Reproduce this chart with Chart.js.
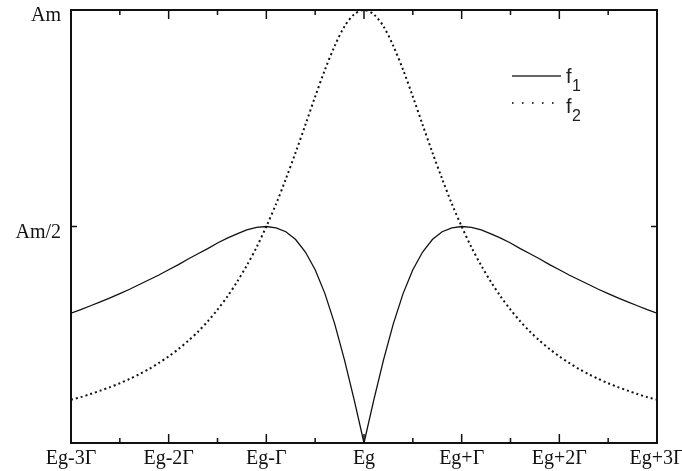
<!DOCTYPE html>
<html>
<head>
<meta charset="utf-8">
<script src="https://cdn.jsdelivr.net/npm/chart.js@4/dist/chart.umd.min.js"></script>
<style>
  html, body { margin: 0; padding: 0; background: #fff; }
  #wrap { width: 682px; height: 471px; }
</style>
</head>
<body>
<div id="wrap"><canvas id="lineChart" width="682" height="471"></canvas></div>
<script>
// x positions in units of Gamma around Eg
const xValues = [
  -3.0, -2.9, -2.8, -2.7, -2.6, -2.5, -2.4, -2.3, -2.2, -2.1,
  -2.0, -1.9, -1.8, -1.7, -1.6, -1.5, -1.4, -1.3, -1.2, -1.1,
  -1.0, -0.9, -0.8, -0.7, -0.6, -0.5, -0.4, -0.3, -0.2, -0.1,
  0.0,
  0.1, 0.2, 0.3, 0.4, 0.5, 0.6, 0.7, 0.8, 0.9, 1.0,
  1.1, 1.2, 1.3, 1.4, 1.5, 1.6, 1.7, 1.8, 1.9, 2.0,
  2.1, 2.2, 2.3, 2.4, 2.5, 2.6, 2.7, 2.8, 2.9, 3.0
];

// f1 values (fraction of Am)
const f1Values = [
  0.300, 0.308, 0.317, 0.326, 0.335, 0.345, 0.355, 0.366, 0.377, 0.388,
  0.400, 0.412, 0.425, 0.437, 0.449, 0.462, 0.473, 0.483, 0.492, 0.498,
  0.500, 0.497, 0.488, 0.470, 0.441, 0.400, 0.345, 0.275, 0.192, 0.099,
  0.000,
  0.099, 0.192, 0.275, 0.345, 0.400, 0.441, 0.470, 0.488, 0.497, 0.500,
  0.498, 0.492, 0.483, 0.473, 0.462, 0.449, 0.437, 0.425, 0.412, 0.400,
  0.388, 0.377, 0.366, 0.355, 0.345, 0.335, 0.326, 0.317, 0.308, 0.300
];

// f2 values (fraction of Am)
const f2Values = [
  0.100, 0.106, 0.113, 0.121, 0.129, 0.138, 0.148, 0.159, 0.171, 0.185,
  0.200, 0.217, 0.236, 0.257, 0.281, 0.308, 0.338, 0.372, 0.410, 0.452,
  0.500, 0.552, 0.610, 0.671, 0.735, 0.800, 0.862, 0.917, 0.962, 0.990,
  1.000,
  0.990, 0.962, 0.917, 0.862, 0.800, 0.735, 0.671, 0.610, 0.552, 0.500,
  0.452, 0.410, 0.372, 0.338, 0.308, 0.281, 0.257, 0.236, 0.217, 0.200,
  0.185, 0.171, 0.159, 0.148, 0.138, 0.129, 0.121, 0.113, 0.106, 0.100
];

// Tick labels
const xTickValues = [-3, -2, -1, 0, 1, 2, 3];
const xTickLabels = ['Eg-3\u0393', 'Eg-2\u0393', 'Eg-\u0393', 'Eg', 'Eg+\u0393', 'Eg+2\u0393', 'Eg+3\u0393'];
const xMinorTicks = [-2.5, -1.5, -0.5, 0.5, 1.5, 2.5];
const yTickValues = [0.5, 1];
const yTickLabels = ['Am/2', 'Am'];

// Build {x, y} points from the arrays
function toPoints(ys) {
    return xValues.map((x, i) => ({ x: x, y: ys[i] }));
}

// Plugin: frame, inward ticks, tick labels and legend
const framePlugin = {
    id: 'frame',
    afterDraw(chart) {
        const ctx = chart.ctx;
        const area = chart.chartArea;
        const xs = chart.scales.x;
        const ys = chart.scales.y;

        ctx.save();
        ctx.strokeStyle = '#111';
        ctx.lineWidth = 2;
        ctx.strokeRect(area.left, area.top, area.right - area.left, area.bottom - area.top);

        // x ticks (top and bottom, inward)
        ctx.lineWidth = 1.5;
        xTickValues.forEach(v => {
            const px = xs.getPixelForValue(v);
            ctx.beginPath();
            ctx.moveTo(px, area.bottom); ctx.lineTo(px, area.bottom - 9);
            ctx.moveTo(px, area.top); ctx.lineTo(px, area.top + 9);
            ctx.stroke();
        });
        xMinorTicks.forEach(v => {
            const px = xs.getPixelForValue(v);
            ctx.beginPath();
            ctx.moveTo(px, area.bottom); ctx.lineTo(px, area.bottom - 5);
            ctx.moveTo(px, area.top); ctx.lineTo(px, area.top + 5);
            ctx.stroke();
        });
        // y ticks (left and right, inward)
        yTickValues.forEach(v => {
            const py = ys.getPixelForValue(v);
            ctx.beginPath();
            ctx.moveTo(area.left, py); ctx.lineTo(area.left + 6, py);
            ctx.moveTo(area.right, py); ctx.lineTo(area.right - 6, py);
            ctx.stroke();
        });

        // tick labels
        ctx.fillStyle = '#111';
        ctx.font = '20px "Liberation Serif", "Times New Roman", serif';
        ctx.textAlign = 'center';
        ctx.textBaseline = 'alphabetic';
        xTickValues.forEach((v, i) => {
            ctx.fillText(xTickLabels[i], xs.getPixelForValue(v), area.bottom + 21);
        });
        ctx.textAlign = 'right';
        yTickValues.forEach((v, i) => {
            ctx.fillText(yTickLabels[i], area.left - 10, ys.getPixelForValue(v) + 11);
        });

        // legend
        ctx.strokeStyle = '#333';
        ctx.lineWidth = 1.3;
        ctx.beginPath();
        ctx.moveTo(512, 76); ctx.lineTo(561, 76);
        ctx.stroke();
        ctx.lineWidth = 2;
        ctx.setLineDash([1.5, 8.5]);
        ctx.beginPath();
        ctx.moveTo(512, 103); ctx.lineTo(562, 103);
        ctx.stroke();
        ctx.setLineDash([]);

        ctx.fillStyle = '#222';
        ctx.textAlign = 'left';
        ctx.font = '20px "Liberation Sans", Arial, sans-serif';
        ctx.fillText('f', 566, 83);
        ctx.fillText('f', 566, 113);
        ctx.font = '16px "Liberation Sans", Arial, sans-serif';
        ctx.fillText('1', 572, 91);
        ctx.fillText('2', 572, 121);
        ctx.restore();
    }
};

function initializeChart() {
    const config = {
        type: 'line',
        data: {
            datasets: [{
                label: 'f1',
                data: toPoints(f1Values),
                borderColor: '#111',
                borderWidth: 1.3,
                pointRadius: 0,
                tension: 0,
                fill: false
            }, {
                label: 'f2',
                data: toPoints(f2Values),
                borderColor: '#111',
                borderWidth: 2,
                borderDash: [2, 3],
                pointRadius: 0,
                tension: 0.3,
                fill: false
            }]
        },
        options: {
            responsive: false,
            animation: false,
            layout: { padding: { left: 71, right: 25, top: 10, bottom: 28 } },
            plugins: {
                legend: { display: false },
                tooltip: { enabled: false }
            },
            scales: {
                x: { type: 'linear', min: -3, max: 3, display: false },
                y: { min: 0, max: 1, display: false }
            }
        },
        plugins: [framePlugin]
    };

    const ctx = document.getElementById('lineChart').getContext('2d');
    new Chart(ctx, config);
}

initializeChart();
</script>
</body>
</html>
